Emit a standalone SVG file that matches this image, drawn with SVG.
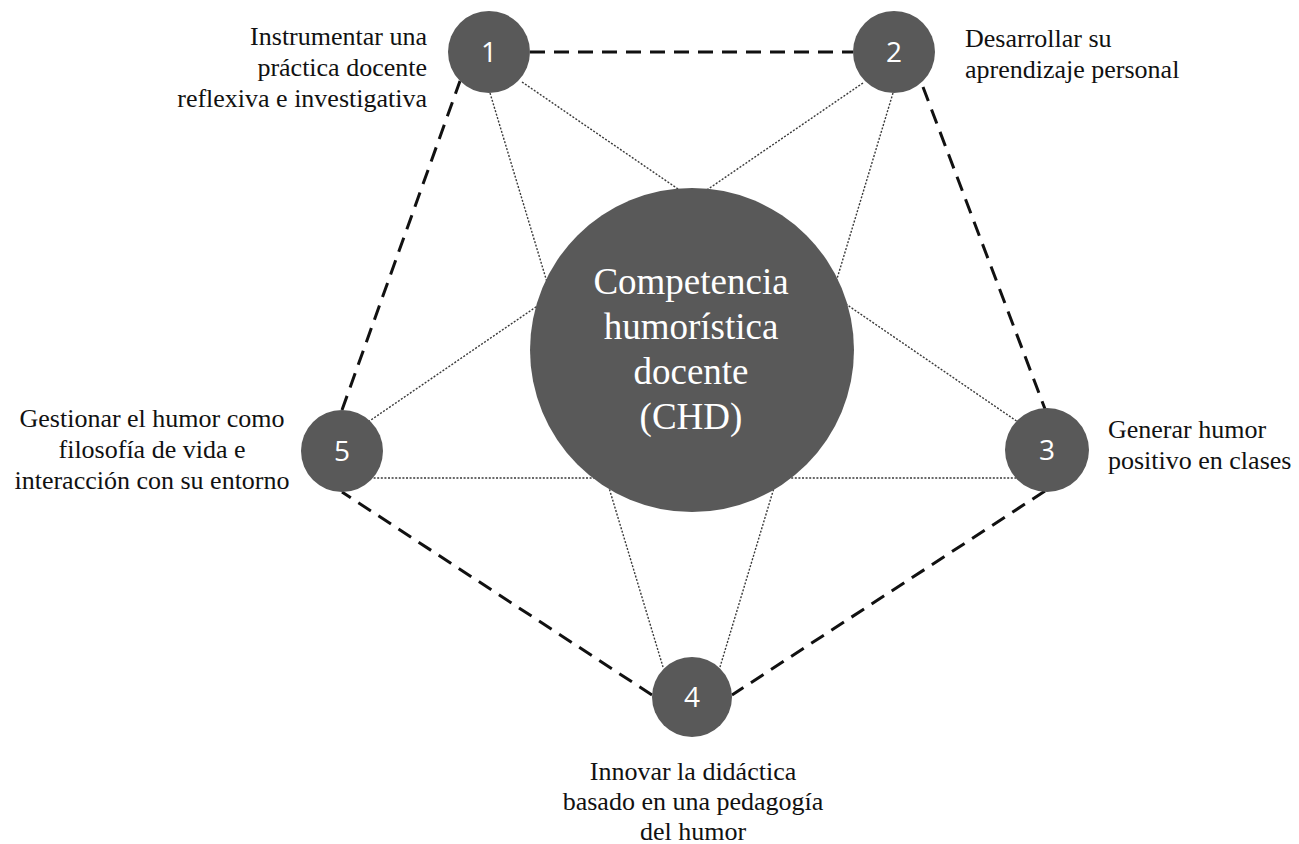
<svg xmlns="http://www.w3.org/2000/svg" width="1299" height="844" viewBox="0 0 1299 844">
<style>
.bg{fill:#ffffff}
.dash{stroke:#111111;stroke-width:3;stroke-dasharray:15 9;fill:none}
.dot{stroke:#3a3a3a;stroke-width:1.4;stroke-dasharray:2 1.6;fill:none}
.node{fill:#595959}
.num{font-family:"Open Sans","Liberation Sans",sans-serif;font-size:28px;fill:#ffffff;text-anchor:middle}
.lbl{font-family:"Liberation Serif","Times New Roman",serif;font-size:26px;fill:#111111}
.ctr{font-family:"Liberation Serif","Times New Roman",serif;font-size:37px;fill:#ffffff;text-anchor:middle}
</style>
<rect class="bg" x="0" y="0" width="1299" height="844"/>
<g id="connectors">
<line class="dot" x1="522" y1="82" x2="1018" y2="422"/>
<line class="dot" x1="490" y1="93" x2="663" y2="667"/>
<line class="dot" x1="893" y1="93" x2="720" y2="667"/>
<line class="dot" x1="863" y1="83" x2="368" y2="422"/>
<line class="dot" x1="370" y1="478" x2="1018" y2="478"/>
<line class="dash" x1="530" y1="52" x2="853" y2="52"/>
<line class="dash" x1="923" y1="87" x2="1045" y2="409"/>
<line class="dash" x1="1045" y1="491" x2="732" y2="695"/>
<line class="dash" x1="652" y1="695" x2="342" y2="492"/>
<line class="dash" x1="342" y1="410" x2="460" y2="81"/>
</g>
<g id="center">
<circle class="node" cx="692" cy="350" r="162"/>
<text class="ctr" x="691" y="294">Competencia</text>
<text class="ctr" x="691" y="339">humorística</text>
<text class="ctr" x="691" y="384">docente</text>
<text class="ctr" x="691" y="429">(CHD)</text>
</g>
<g id="node1">
<circle class="node" cx="489" cy="52" r="41"/>
<text class="num" x="489" y="62">1</text>
<text class="lbl" text-anchor="end" x="427" y="45">Instrumentar una</text>
<text class="lbl" text-anchor="end" x="427" y="76">práctica docente</text>
<text class="lbl" text-anchor="end" x="427" y="107">reflexiva e investigativa</text>
</g>
<g id="node2">
<circle class="node" cx="894" cy="52" r="41"/>
<text class="num" x="894" y="62">2</text>
<text class="lbl" x="965" y="47">Desarrollar su</text>
<text class="lbl" x="965" y="78">aprendizaje personal</text>
</g>
<g id="node3">
<circle class="node" cx="1047" cy="450" r="42"/>
<text class="num" x="1047" y="460">3</text>
<text class="lbl" x="1108" y="438">Generar humor</text>
<text class="lbl" x="1108" y="469">positivo en clases</text>
</g>
<g id="node4">
<circle class="node" cx="692" cy="697" r="40"/>
<text class="num" x="692" y="707">4</text>
<text class="lbl" text-anchor="middle" x="693" y="780">Innovar la didáctica</text>
<text class="lbl" text-anchor="middle" x="693" y="810">basado en una pedagogía</text>
<text class="lbl" text-anchor="middle" x="693" y="840">del humor</text>
</g>
<g id="node5">
<circle class="node" cx="342" cy="451" r="41"/>
<text class="num" x="342" y="461">5</text>
<text class="lbl" text-anchor="middle" x="152" y="427">Gestionar el humor como</text>
<text class="lbl" text-anchor="middle" x="152" y="458">filosofía de vida e</text>
<text class="lbl" text-anchor="middle" x="152" y="489">interacción con su entorno</text>
</g>
</svg>
